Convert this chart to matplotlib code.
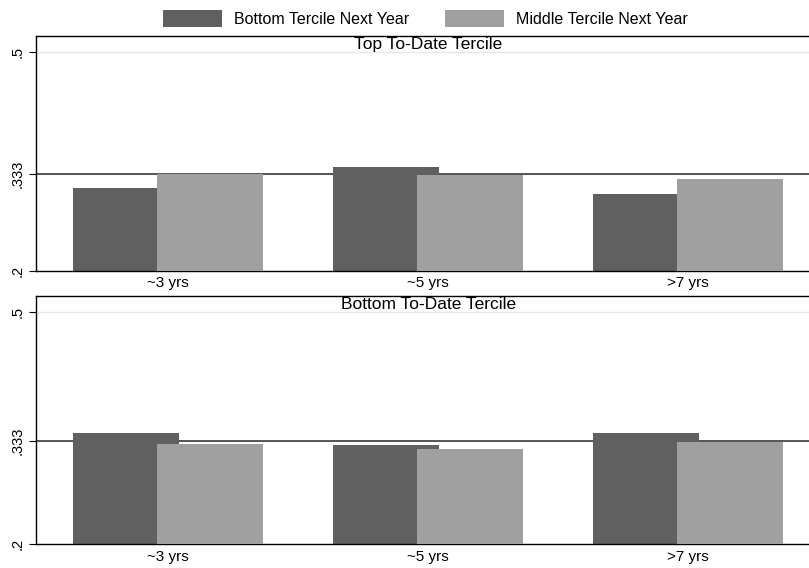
import matplotlib
matplotlib.use("Agg")
import matplotlib.pyplot as plt
from matplotlib.patches import Patch
import numpy as np

plt.rcParams['font.family'] = ['Liberation Sans', 'DejaVu Sans']

categories = ["~3 yrs", "~5 yrs", ">7 yrs"]
series_names = ["Bottom Tercile Next Year", "Middle Tercile Next Year"]
panel_titles = ["Top To-Date Tercile", "Bottom To-Date Tercile"]
top_bottom = [0.314, 0.343, 0.306]
top_middle = [0.333, 0.332, 0.326]
bot_bottom = [0.344, 0.328, 0.344]
bot_middle = [0.329, 0.323, 0.332]
yticks = [0.2, 0.333, 0.5]
ytick_labels = [".2", ".333", ".5"]
ref_line = 0.333

dark = "#606060"
light = "#a0a0a0"

W, H = 809, 568
fig = plt.figure(figsize=(W / 100, H / 100), dpi=100)

panels = [
    (panel_titles[0], top_bottom, top_middle, (36, 270.7), 0.5224),
    (panel_titles[1], bot_bottom, bot_middle, (296, 544), 0.5204),
]

x = np.arange(len(categories))
width = 0.408
off = 0.1615

for title, b_vals, m_vals, (ytop, ybot), ymax in panels:
    left = 36 / W
    ax = fig.add_axes([left, 1 - ybot / H, 1 - left, (ybot - ytop) / H])
    ax.set_xlim(-0.508, 2.465)
    ax.set_ylim(0.2, ymax)
    for yv in yticks:
        ax.axhline(yv, color="#e8e8e8", lw=1.0, zorder=0)
    ax.axhline(ref_line, color="#3a3a3a", lw=1.2, zorder=1)
    ax.bar(x - off, np.array(b_vals) - 0.2, width, bottom=0.2, color=dark, zorder=2)
    ax.bar(x + off, np.array(m_vals) - 0.2, width, bottom=0.2, color=light, zorder=3)
    ax.set_yticks(yticks)
    ax.set_yticklabels(ytick_labels, rotation=90, va="center", fontsize=10.5)
    ax.set_xticks(x)
    ax.set_xticklabels(categories, fontsize=11)
    ax.tick_params(axis="x", length=0, pad=4)
    ax.tick_params(axis="y", length=5, width=0.8, pad=3)
    for s in ["left", "top", "bottom"]:
        ax.spines[s].set_linewidth(1.0)
        ax.spines[s].set_color("black")
    ax.spines["right"].set_visible(False)
    ax.text(1.0, 0.997, title, transform=ax.get_xaxis_transform(),
            ha="center", va="top", fontsize=12.5)

handles = [Patch(facecolor=dark, edgecolor="none"), Patch(facecolor=light, edgecolor="none")]
fig.legend(handles, series_names, loc="center", bbox_to_anchor=(425.5 / W, 1 - 18.5 / H),
           ncol=2, frameon=False, fontsize=11.5, handlelength=3.7, handleheight=1.2,
           columnspacing=2.25, handletextpad=0.75, borderpad=0, borderaxespad=0)

fig.savefig("out.png", dpi=100)
